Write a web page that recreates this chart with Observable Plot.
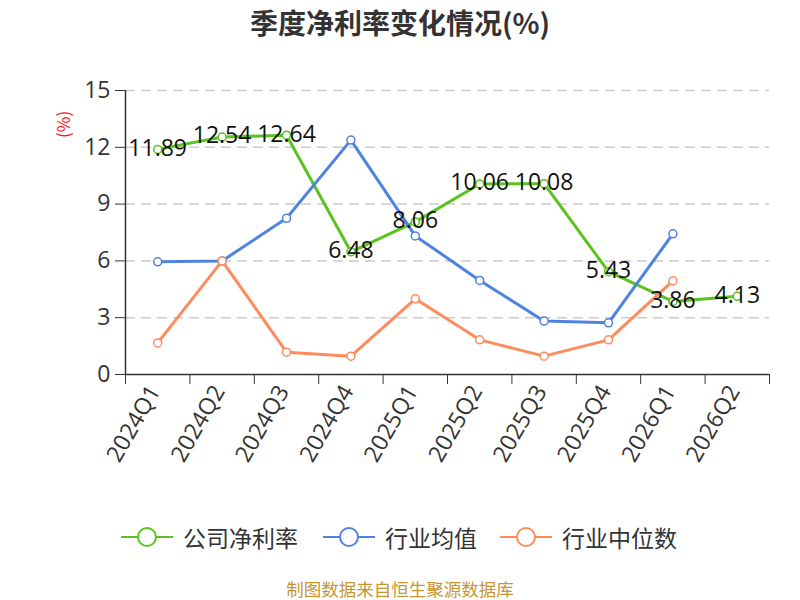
<!DOCTYPE html>
<html>
<head>
<meta charset="utf-8">
<script src="https://cdn.jsdelivr.net/npm/d3@7"></script>
<script src="https://cdn.jsdelivr.net/npm/@observablehq/plot@0.6"></script>
<style>
  html, body { margin: 0; padding: 0; background: #fff; }
  #wrap { position: relative; width: 800px; height: 600px; overflow: hidden; font-family: "Noto Sans CJK SC", "Noto Sans", sans-serif; }
  #chart { position: absolute; left: 0; top: 0; }
  .title { position: absolute; left: 0; width: 800px; top: 2px; text-align: center; font-size: 28px; font-weight: bold; color: #333; line-height: 40px; }
  .ylab { position: absolute; left: 50px; top: 112px; color: #f01818; font-size: 17px; transform: rotate(-90deg); transform-origin: center; width: 26px; height: 26px; line-height: 26px; text-align: center; }
  .legend { position: absolute; top: 520px; left: 0; width: 800px; height: 34px; }
  .item { position: absolute; top: 0; height: 34px; display: flex; align-items: center; font-size: 23px; color: #333; }
  .item svg { margin-right: 10px; }
  .footer { position: absolute; left: 0; width: 800px; top: 579px; height: 20px; text-align: center; font-size: 17.5px; color: #c8962f; line-height: 20px; }
</style>
</head>
<body>
<div id="wrap">
  <div id="chart"></div>
  <div class="title">季度净利率变化情况(%)</div>
  <div class="ylab">(%)</div>
  <div class="legend" id="legend"></div>
  <div class="footer">制图数据来自恒生聚源数据库</div>
</div>
<script>
const quarters = ["2024Q1","2024Q2","2024Q3","2024Q4","2025Q1","2025Q2","2025Q3","2025Q4","2026Q1","2026Q2"];
const companyRate = [11.89, 12.54, 12.64, 6.48, 8.06, 10.06, 10.08, 5.43, 3.86, 4.13];
const industryMean = [5.95, 6.0, 8.25, 12.38, 7.32, 4.97, 2.82, 2.73, 7.43, null];
const industryMedian = [1.67, 6.0, 1.18, 0.97, 4.0, 1.83, 0.97, 1.83, 4.95, null];
const seriesNames = ["公司净利率", "行业均值", "行业中位数"];
const seriesColors = ["#5bc320", "#4f83e0", "#ff8b5c"];
const yTicks = [0, 3, 6, 9, 12, 15];

const allSeries = [companyRate, industryMean, industryMedian];
const rows = [];
allSeries.forEach((vals, s) => {
  vals.forEach((v, i) => { if (v != null) rows.push({ i, q: quarters[i], v, s: seriesNames[s] }); });
});
const companyRows = rows.filter(d => d.s === seriesNames[0]);

const idx = quarters.map((_, i) => i);
const bounds = quarters.map((_, i) => i - 0.5).concat([quarters.length - 0.5]);
const numFont = '"Open Sans", "Noto Sans", sans-serif';

const chart = Plot.plot({
  width: 800,
  height: 480,
  marginLeft: 125,
  marginRight: 31,
  marginTop: 90,
  marginBottom: 106,
  style: { fontFamily: numFont, background: "transparent" },
  x: { type: "linear", domain: [-0.5, quarters.length - 0.5] },
  y: { domain: [0, 15] },
  color: { domain: seriesNames, range: seriesColors },
  marks: [
    Plot.gridY(yTicks.filter(t => t > 0), { stroke: "#cccccc", strokeOpacity: 1, strokeWidth: 1.5, strokeDasharray: "10,6" }),
    Plot.axisY({ ticks: yTicks, tickSize: 10, tickPadding: 5, fontSize: 23, color: "#333", label: null }),
    Plot.axisX({ ticks: bounds, tickSize: 10, tickFormat: () => "", label: null, stroke: "#333" }),
    Plot.axisX({ ticks: idx, tickSize: 0, tickPadding: 13, tickRotate: -60, tickFormat: i => quarters[i], fontSize: 23, color: "#333", label: null, dx: -3 }),
    Plot.ruleX([-0.5], { stroke: "#333", strokeWidth: 1.5 }),
    Plot.ruleY([0], { stroke: "#333", strokeWidth: 1.5 }),
    Plot.line(rows, { x: "i", y: "v", z: "s", stroke: "s", strokeWidth: 3 }),
    Plot.dot(rows, { x: "i", y: "v", stroke: "s", fill: "white", r: 4, strokeWidth: 1.5 }),
    Plot.text(companyRows, { x: "i", y: "v", text: d => d.v.toFixed(2), fontSize: 23, fill: "#111", dy: -1 })
  ]
});
document.getElementById("chart").appendChild(chart);

const legend = document.getElementById("legend");
const legendX = [121, 323, 500];
seriesNames.forEach((name, k) => {
  const el = document.createElement("div");
  el.className = "item";
  el.style.left = legendX[k] + "px";
  el.innerHTML = `<svg width="52" height="22"><line x1="0" y1="11" x2="52" y2="11" stroke="${seriesColors[k]}" stroke-width="2"/><circle cx="26" cy="11" r="9" fill="white" stroke="${seriesColors[k]}" stroke-width="2"/></svg><span>${name}</span>`;
  legend.appendChild(el);
});
</script>
</body>
</html>
